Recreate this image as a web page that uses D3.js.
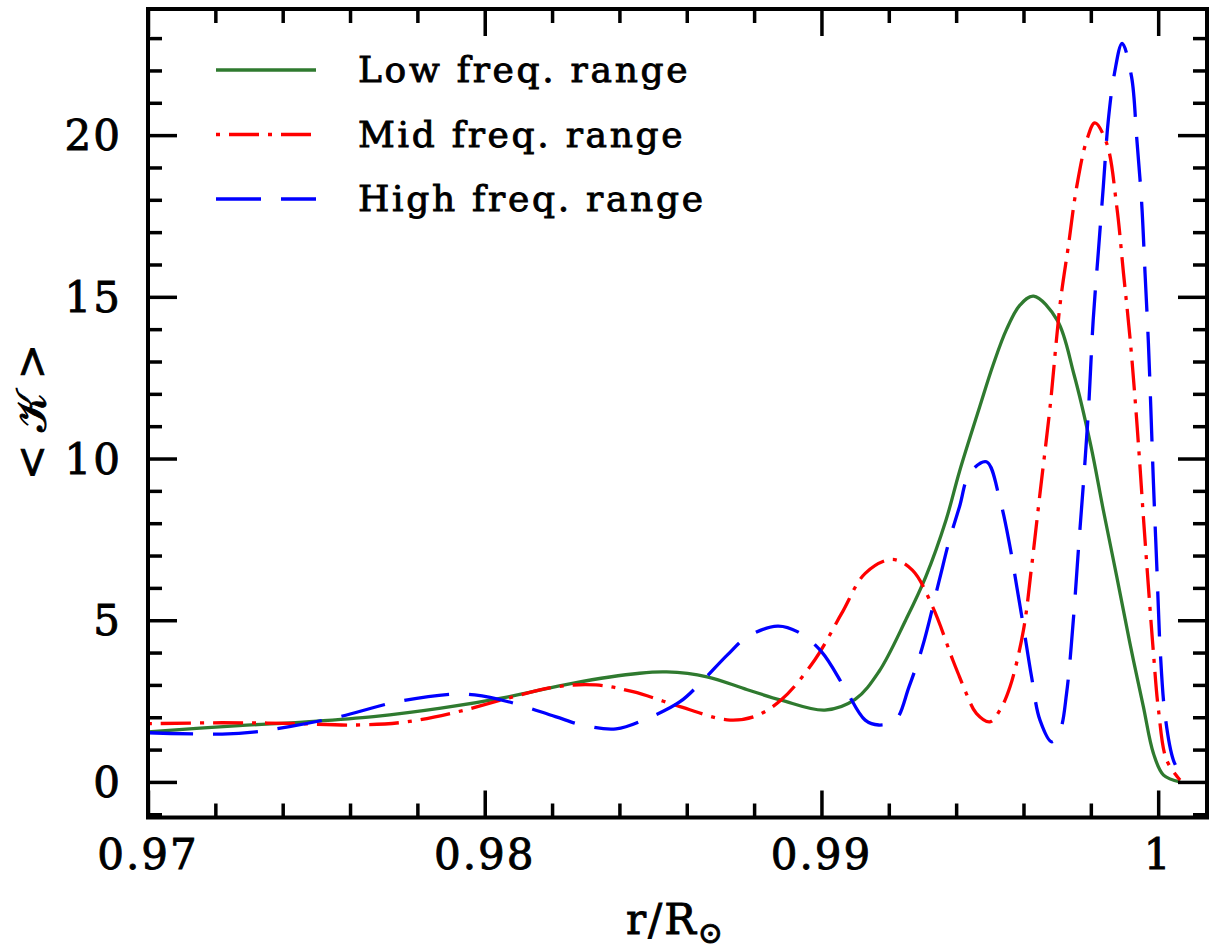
<!DOCTYPE html>
<html>
<head>
<meta charset="utf-8">
<script src="https://cdn.jsdelivr.net/npm/d3@7"></script>
<style>
  html, body { margin: 0; padding: 0; background: #fff; }
  svg text { font-family: "DejaVu Serif", serif; fill: #000; stroke: #000; stroke-width: 0.9px; }
</style>
</head>
<body>
<svg id="chart" width="1211" height="951"></svg>
<script>
// radius r/Rsun and mean kernel <K>
var lowR  = [0.9700, 0.9727, 0.9747, 0.9767, 0.9787, 0.9807, 0.9826, 0.9846, 0.9854, 0.9866, 0.9878, 0.9888, 0.9901, 0.9910, 0.9917, 0.9925, 0.9931, 0.9937, 0.9941, 0.9947, 0.9951, 0.9955, 0.9959, 0.9963, 0.9970, 0.9975, 0.9980, 0.99837, 0.99877, 0.99916, 0.99956, 0.99986, 1.00016, 1.00065];
var lowK  = [1.55, 1.74, 1.86, 2.02, 2.28, 2.63, 3.05, 3.36, 3.40, 3.25, 2.85, 2.53, 2.22, 2.55, 3.40, 5.00, 6.35, 8.10, 9.60, 11.6, 12.9, 14.0, 14.75, 15.02, 14.28, 12.6, 10.4, 8.41, 6.35, 4.29, 2.33, 0.88, 0.21, 0.0];

var midR  = [0.9700, 0.9722, 0.9742, 0.9762, 0.9777, 0.9792, 0.9807, 0.9821, 0.9833, 0.9844, 0.9858, 0.9872, 0.9880, 0.9888, 0.9898, 0.9906, 0.9913, 0.9921, 0.9927, 0.9933, 0.9939, 0.9941, 0.9943, 0.9946, 0.9950, 0.9953, 0.9956, 0.9960, 0.99624, 0.99649, 0.99679, 0.99709, 0.99733, 0.99758, 0.99788, 0.99812, 0.99847, 0.99877, 0.99897, 0.99916, 0.99931, 0.99946, 0.99956, 0.99971, 0.99986, 1.00001, 1.00025, 1.00065];
var midK  = [1.80, 1.83, 1.81, 1.76, 1.86, 2.17, 2.59, 2.94, 3.00, 2.79, 2.33, 1.92, 2.02, 2.53, 3.77, 5.21, 6.45, 6.88, 6.55, 5.42, 3.77, 3.25, 2.74, 2.12, 1.86, 2.22, 2.94, 4.70, 6.65, 8.92, 11.6, 14.8, 16.55, 18.4, 19.85, 20.38, 19.75, 17.79, 15.73, 13.77, 11.9, 9.75, 8.2, 6.04, 3.98, 2.22, 0.68, 0.06];

var highR = [0.9700, 0.9722, 0.9732, 0.9742, 0.9757, 0.9774, 0.9791, 0.9797, 0.9807, 0.9821, 0.9829, 0.9839, 0.9848, 0.9858, 0.9864, 0.9872, 0.9878, 0.9887, 0.9893, 0.9900, 0.9907, 0.9913, 0.9917, 0.9922, 0.9926, 0.9930, 0.9935, 0.9938, 0.9941, 0.9944, 0.9949, 0.9953, 0.9956, 0.9958, 0.9960, 0.99624, 0.99649, 0.99684, 0.99709, 0.99728, 0.99748, 0.99763, 0.99778, 0.99793, 0.99807, 0.99822, 0.99837, 0.99852, 0.99870, 0.99893, 0.99921, 0.99936, 0.99951, 0.99961, 0.99971, 0.99978, 0.99986, 0.99996, 1.00006, 1.00021, 1.00045, 1.00070];
var highK = [1.52, 1.48, 1.55, 1.71, 2.02, 2.48, 2.72, 2.69, 2.48, 2.02, 1.76, 1.64, 1.95, 2.48, 3.05, 3.92, 4.49, 4.82, 4.64, 4.03, 2.89, 1.91, 1.76, 1.91, 2.94, 4.18, 6.24, 7.48, 8.51, 9.54, 9.90, 8.72, 7.27, 6.04, 4.80, 3.25, 1.91, 1.24, 1.60, 2.74, 5.00, 7.17, 9.23, 11.5, 14.28, 16.35, 18.4, 20.47, 21.9, 22.84, 21.8, 19.95, 17.9, 15.73, 13.56, 11.6, 9.23, 6.65, 4.08, 2.02, 0.68, 0.16];

var seriesNames = ["Low freq. range", "Mid freq. range", "High freq. range"];
var xMajor = [0.97, 0.98, 0.99, 1.0];
var yMajor = [0, 5, 10, 15, 20];

var
	svg = d3.select("#chart"),

	plotL = 148, plotR = 1207, plotT = 9, plotB = 817.5,

	x = d3.scaleLinear().domain([0.97, 1.00145]).range([plotL, plotR]),
	y = d3.scaleLinear().domain([-1.1, 23.9]).range([plotB, plotT]),

	xMinor = d3.range(0.972, 1.0011, 0.002).filter(function(v){
		return xMajor.every(function(m){ return Math.abs(m - v) > 1e-6; });
	}),
	yMinor = d3.range(-1, 24, 1).filter(function(v){ return v % 5 !== 0; }),

	series = [
		{ name: seriesNames[0], r: lowR,  k: lowK,  color: "#2f7a2f", dash: null,        off: 0 },
		{ name: seriesNames[1], r: midR,  k: midK,  color: "#ff0000", dash: "30,9,4,9",  off: 39 },
		{ name: seriesNames[2], r: highR, k: highK, color: "#0000ff", dash: "45,20",     off: 0 }
	];

// curves
var line = d3.line()
	.x(function(d){ return x(d[0]); })
	.y(function(d){ return y(d[1]); })
	.curve(d3.curveCatmullRom.alpha(0.5));

var plot = svg.append("g").attr("id", "curves");

series.forEach(function(s){
	plot.append("path")
		.datum(d3.zip(s.r, s.k))
		.attr("d", line)
		.attr("fill", "none")
		.attr("stroke", s.color)
		.attr("stroke-width", 3.3)
		.attr("stroke-dasharray", s.dash)
		.attr("stroke-dashoffset", s.off);
});

// axes, ticks drawn inward on all four sides
function ticks(axis, vals, len, g){
	g.call(axis.tickValues(vals).tickSizeInner(-len).tickSizeOuter(0).tickFormat(""));
	g.select(".domain").remove();
	g.selectAll(".tick line").attr("stroke", "#000").attr("stroke-width", 3.5);
}

ticks(d3.axisBottom(x), xMajor, 27, svg.append("g").attr("transform", "translate(0," + plotB + ")"));
ticks(d3.axisBottom(x), xMinor, 14, svg.append("g").attr("transform", "translate(0," + plotB + ")"));
ticks(d3.axisTop(x),    xMajor, 27, svg.append("g").attr("transform", "translate(0," + plotT + ")"));
ticks(d3.axisTop(x),    xMinor, 14, svg.append("g").attr("transform", "translate(0," + plotT + ")"));
ticks(d3.axisLeft(y),   yMajor, 29, svg.append("g").attr("transform", "translate(" + plotL + ",0)"));
ticks(d3.axisLeft(y),   yMinor, 14, svg.append("g").attr("transform", "translate(" + plotL + ",0)"));
ticks(d3.axisRight(y),  yMajor, 29, svg.append("g").attr("transform", "translate(" + plotR + ",0)"));
ticks(d3.axisRight(y),  yMinor, 14, svg.append("g").attr("transform", "translate(" + plotR + ",0)"));

svg.append("rect")
	.attr("x", plotL)
	.attr("y", plotT)
	.attr("width", plotR - plotL)
	.attr("height", plotB - plotT)
	.attr("fill", "none")
	.attr("stroke", "#000")
	.attr("stroke-width", 4);

// tick labels
svg.append("g").selectAll("text")
	.data(xMajor)
	.enter().append("text")
	.attr("x", function(d){ return x(d); })
	.attr("y", 869)
	.attr("text-anchor", "middle")
	.style("font-size", "42px")
	.style("letter-spacing", "2px")
	.text(function(d){ return d === 1 ? "1" : d.toFixed(2); });

svg.append("g").selectAll("text")
	.data(yMajor)
	.enter().append("text")
	.attr("x", 122)
	.attr("y", function(d){ return y(d) + 15; })
	.attr("text-anchor", "end")
	.style("font-size", "42px")
	.style("letter-spacing", "2px")
	.text(function(d){ return d; });

// axis titles
var xt = svg.append("text")
	.attr("x", 626)
	.attr("y", 934)
	.style("font-size", "42px")
	.style("letter-spacing", "2px");
xt.append("tspan").text("r/R");
xt.append("tspan").attr("dy", 9).style("font-size", "30px").text("\u2299");

svg.append("text")
	.attr("transform", "translate(46,412) rotate(-90)")
	.attr("text-anchor", "middle")
	.style("font-size", "42px")
	.text("< \uD835\uDCA6 >");

// legend
var legend = svg.append("g").attr("id", "legend");

series.forEach(function(s, i){
	var ly = 70 + i * 64.5;
	legend.append("line")
		.attr("x1", 216).attr("x2", 316)
		.attr("y1", ly).attr("y2", ly)
		.attr("stroke", s.color)
		.attr("stroke-width", 3.3)
		.attr("stroke-dasharray", s.dash)
		.attr("stroke-dashoffset", s.off);
	legend.append("text")
		.attr("x", 358)
		.attr("y", ly + 12)
		.style("font-size", "36px")
		.style("letter-spacing", "2.7px")
		.text(s.name);
});
</script>
</body>
</html>
